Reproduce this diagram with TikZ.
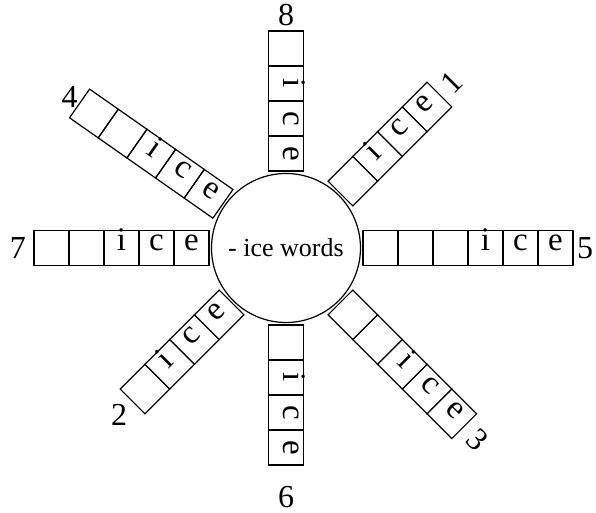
\documentclass[tikz,border=0pt]{standalone}
\usepackage{fontspec}
\setmainfont{Liberation Serif}
\newcommand{\iceletter}[1]{\ifcase#1\or i\or c\or e\fi}
\tikzset{
  cell/.style={draw, line width=1.2pt, minimum size=35pt, inner sep=0pt, font=\fontsize{33}{38}\selectfont, text height=1.3ex, text depth=0pt},
  hub/.style={draw, circle, line width=1.2pt, minimum size=149pt, inner sep=0pt, font=\fontsize{26}{30}\selectfont},
  num/.style={font=\fontsize{32}{36}\selectfont, inner sep=0pt},
}

\begin{document}
\begin{tikzpicture}[x=1pt, y=1pt]
  \useasboundingbox (-286,-265) rectangle (310,248);
  \node[hub] (hub) at (0,0) {- ice words};
  \foreach \ang/\rot/\cells/\dir/\num/\lr/\lrot in {45/45/4/1/1/234/45, 90/-90/4/-1/8/233/0, 145/-35/5/-1/4/264/0, 180/0/5/-1/7/268/0, 225/45/4/-1/2/236/0, 270/-90/4/1/6/249/0, 315/-45/5/1/3/271/-45, 0/0/6/1/5/299/0}{
    \foreach \k in {1,...,\cells}{
      \pgfmathtruncatemacro\j{\dir>0 ? max(0,\k-\cells+3) : max(0,4-\k)}
      \node[cell, rotate=\rot] (arm\num-\k) at (\ang:{77+35*(\k-0.5)}) {\iceletter{\j}};
    }
    \node[num, rotate=\lrot] (lab\num) at (\ang:\lr) {\num};
  }
\end{tikzpicture}
\end{document}
